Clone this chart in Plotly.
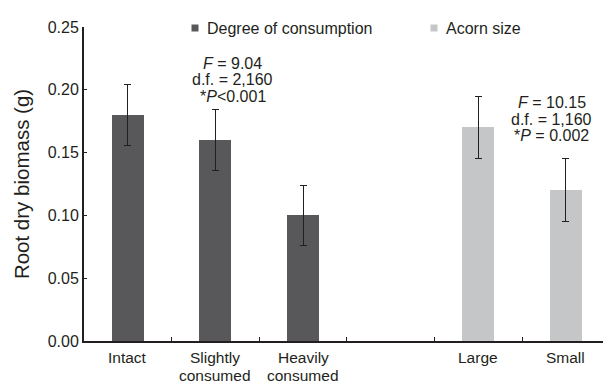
import plotly.graph_objects as go

# Root dry biomass by treatment (means with error bars)
consumption_labels = ["Intact", "Slightly<br>consumed", "Heavily<br>consumed"]
consumption_means = [0.180, 0.160, 0.100]
consumption_err = [0.024, 0.024, 0.024]

size_labels = ["Large", "Small"]
size_means = [0.170, 0.120]
size_err = [0.025, 0.025]

series_names = ["Degree of consumption", "Acorn size"]
series_colors = ["#58585a", "#c5c6c8"]

stats_consumption = ["<i>F</i> = 9.04", "d.f. = 2,160", "*<i>P</i>&lt;0.001"]
stats_size = ["<i>F</i> = 10.15", "d.f. = 1,160", "*<i>P</i> = 0.002"]

y_ticks = [0.00, 0.05, 0.10, 0.15, 0.20, 0.25]

# positions: three consumption groups, one empty slot, two size groups
x_cons = [0, 1, 2]
x_size = [4, 5]

W, H = 603, 383
ML, MR, MT, MB = 84, 0, 27, 42
FONT = "Liberation Sans, Arial, Helvetica, sans-serif"
INK = "#231f20"

fig = go.Figure()
for xs, ys, es, col in [(x_cons, consumption_means, consumption_err, series_colors[0]),
                        (x_size, size_means, size_err, series_colors[1])]:
    fig.add_trace(go.Bar(
        x=xs, y=ys, width=0.365, marker=dict(color=col, line=dict(width=0)),
        error_y=dict(type="data", array=es, color=INK, thickness=1, width=3.5),
        showlegend=False,
    ))

pw = W - ML - MR


def px_to_paper_x(px):
    return (px - ML) / pw


def px_to_paper_y(py):
    return 1 - (py - MT) / (H - MT - MB)


annotations = []
shapes = []

# category labels under the axis, one annotation per line
LABEL_SIZE = 15.5
for xv, lab in zip(x_cons + x_size, consumption_labels + size_labels):
    for i, line in enumerate(lab.split("<br>")):
        annotations.append(dict(
            x=xv, y=0, xref="x", yref="y", text=line, showarrow=False,
            xanchor="center", yanchor="top", yshift=-7.2 - 17.3 * i, borderpad=0,
            font=dict(family=FONT, size=LABEL_SIZE, color=INK),
        ))

# test statistics
for xc, yc, lines in [(1.2, 0.2205, stats_consumption), (4.84, 0.1887, stats_size)]:
    for i, line in enumerate(lines):
        annotations.append(dict(
            x=xc, y=yc, xref="x", yref="y", text=line, showarrow=False,
            xanchor="center", yanchor="middle", yshift=1 - 16.5 * i, borderpad=0,
            font=dict(family=FONT, size=16, color=INK),
        ))

# legend entries
for name, col, sq_left in zip(series_names, series_colors, [191.5, 430.5]):
    shapes.append(dict(
        type="rect", xref="paper", yref="paper",
        x0=px_to_paper_x(sq_left), x1=px_to_paper_x(sq_left + 7),
        y0=px_to_paper_y(31.5), y1=px_to_paper_y(24.5),
        fillcolor=col, line=dict(width=0),
    ))
    annotations.append(dict(
        x=px_to_paper_x(sq_left + 13), y=px_to_paper_y(28.5), xref="paper", yref="paper",
        text=name, showarrow=False, xanchor="left", yanchor="middle",
        font=dict(family=FONT, size=16, color=INK),
    ))

fig.update_layout(
    width=W, height=H,
    margin=dict(l=ML, r=MR, t=MT, b=MB, pad=0),
    paper_bgcolor="white", plot_bgcolor="white",
    font=dict(family=FONT, size=16, color=INK),
    bargap=0,
    xaxis=dict(
        range=[-0.5, -0.5 + pw / 87.6], showgrid=False, zeroline=False,
        showline=True, linecolor=INK, linewidth=2,
        tickvals=x_cons + x_size, ticktext=[""] * 5, ticks="",
        minor=dict(tickvals=[0.5, 1.5, 2.5, 3.5, 4.5], ticks="inside",
                   ticklen=4, tickcolor=INK, tickwidth=1),
        fixedrange=True,
    ),
    yaxis=dict(
        range=[0, 0.25], showgrid=False, zeroline=False,
        showline=True, linecolor=INK, linewidth=2,
        tickvals=y_ticks, ticktext=[f"{v:.2f}" for v in y_ticks],
        ticks="inside", ticklen=3, tickcolor=INK, tickwidth=1,
        tickfont=dict(family=FONT, size=16, color=INK),
        title=dict(text="Root dry biomass (g)", font=dict(family=FONT, size=20.5, color=INK), standoff=12),
    ),
    annotations=annotations,
    shapes=shapes,
)

fig.write_html("out.html")
